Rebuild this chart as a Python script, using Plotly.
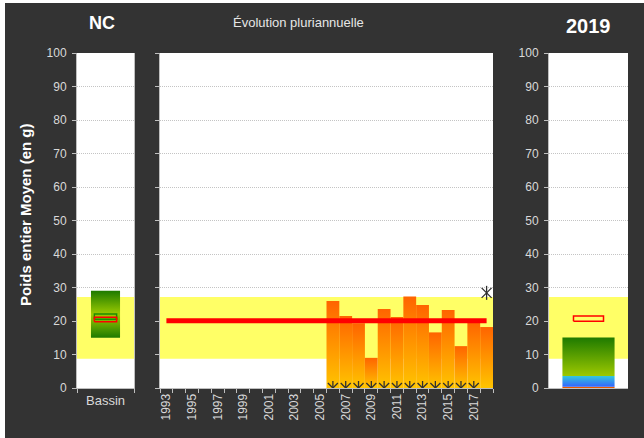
import plotly.graph_objects as go

W, H = 644, 438

# ---- data -----------------------------------------------------------------
years = list(range(1993, 2019))
tick_years = list(range(1993, 2018, 2))
bar_years = list(range(2006, 2019))
bar_values = [26.0, 21.5, 19.3, 9.0, 23.6, 21.2, 27.3, 24.8, 16.6, 23.3, 12.5, 19.8, 18.2]
star_years = list(range(2006, 2019))
star_values = [0, 0, 0, 0, 0, 0, 0, 0, 0, 0, 0, 0, 28.4]
mean_weight = 20.1
reference_band = [8.7, 27.2]

bassin_label = "Bassin"
bassin_range = [15.0, 29.0]
bassin_box_green = [20.5, 22.1]
bassin_box_red = [19.8, 21.1]

year_label = "2019"
year_bounds = [0.0, 0.4, 3.6, 15.1]          # orange / blue / green stack
year_box_red = [19.9, 21.5]

# ---- style ----------------------------------------------------------------
BG = "#333333"
TXT = "#D9D9D9"
GRID = "#BFBFBF"
FONT = "Liberation Sans, Arial, sans-serif"


def px_x(p):
    return p / W


def px_y(p):
    return 1 - p / H


fig = go.Figure()


def rect(x0, x1, y0, y1, xa, ya, scale=None, color=None):
    kw = dict(fillgradient=dict(type="vertical", colorscale=scale)) if scale else dict(fillcolor=color)
    fig.add_trace(go.Scatter(
        x=[x0, x1, x1, x0, x0], y=[y0, y0, y1, y1, y0],
        mode="lines", fill="toself",
        line=dict(width=0, color="rgba(0,0,0,0)"),
        hoverinfo="skip", showlegend=False, xaxis=xa, yaxis=ya, **kw))


def box(low_high, width, color, xa, ya):
    x0, x1 = -width / 2, width / 2
    y0, y1 = low_high
    fig.add_trace(go.Scatter(
        x=[x0, x1, x1, x0, x0], y=[y0, y0, y1, y1, y0], mode="lines",
        line=dict(color=color, width=1.5),
        hoverinfo="skip", showlegend=False, xaxis=xa, yaxis=ya))


# ---- reference band in every panel (drawn first, under the marks) ----------
x_ranges = {"x": [-0.5, 0.5], "x2": [years[0] - 0.5, years[-1] + 0.5], "x3": [-0.5, 0.5]}
for xa, ya in (("x", "y"), ("x2", "y2"), ("x3", "y3")):
    rect(x_ranges[xa][0], x_ranges[xa][1], reference_band[0], reference_band[1],
         xa, ya, color="#FFFF66")

# ---- left panel: basin ----------------------------------------------------
green_mid = [[0, "#1E7A00"], [0.5, "#9CCB00"], [1, "#1E7A00"]]
rect(-0.255, 0.255, bassin_range[0], bassin_range[1], "x", "y", scale=green_mid)
box(bassin_box_green, 0.39, "#1E8C00", "x", "y")
box(bassin_box_red, 0.39, "#FF0000", "x", "y")

# ---- middle panel: yearly evolution ----------------------------------------
orange_scale = [[0, "#FFC400"], [1, "#FF6400"]]
for yr, v in zip(bar_years, bar_values):
    rect(yr - 0.5, yr + 0.5, 0, v, "x2", "y2", scale=orange_scale)

fig.add_trace(go.Scatter(
    x=[years[0], years[-1]], y=[mean_weight, mean_weight], mode="lines",
    line=dict(color="#FF0000", width=5), hoverinfo="skip", showlegend=False,
    xaxis="x2", yaxis="y2"))

# six-armed star: an X plus a vertical stroke
for sym in ("x-thin-open", "line-ns-open"):
    fig.add_trace(go.Scatter(
        x=star_years, y=star_values, mode="markers",
        marker=dict(symbol=sym, size=10, color="#303030",
                    line=dict(color="#303030", width=1.3)),
        hoverinfo="skip", showlegend=False, xaxis="x2", yaxis="y2"))

# ---- right panel: current year --------------------------------------------
seg_scales = [
    [[0, "#E65A00"], [1, "#E65A00"]],
    [[0, "#3366FF"], [1, "#33C8DC"]],
    [[0, "#9CC800"], [1, "#1E7A00"]],
]
for lo, hi, sc in zip(year_bounds[:-1], year_bounds[1:], seg_scales):
    rect(-0.33, 0.33, lo, hi, "x3", "y3", scale=sc)
box(year_box_red, 0.38, "#FF0000", "x3", "y3")

# ---- axes -----------------------------------------------------------------
ydom = [px_y(388), px_y(53)]
yax = dict(range=[0, 100], dtick=10, showgrid=True, gridcolor="#C4C4C4",
           griddash="1px,1px", gridwidth=1, zeroline=False, showline=True,
           linecolor=GRID, ticks="outside", ticklen=4, tickcolor=GRID,
           ticklabelstandoff=3,
           tickfont=dict(color=TXT, size=12, family=FONT), fixedrange=True)

fig.update_layout(
    xaxis=dict(domain=[px_x(77), px_x(134)], range=x_ranges["x"],
               tickvals=[0], ticktext=[bassin_label], ticks="",
               showline=True, linecolor=GRID, showgrid=False, zeroline=False,
               minor=dict(tickvals=x_ranges["x"], ticks="outside", ticklen=4,
                          tickcolor=GRID, showgrid=False),
               tickfont=dict(color=TXT, size=13, family=FONT)),
    yaxis=dict(yax, domain=ydom, anchor="x", mirror=True),
    xaxis2=dict(domain=[px_x(160), px_x(493)], range=x_ranges["x2"],
                tickvals=tick_years, ticktext=[str(t) for t in tick_years],
                tickangle=-90, ticks="", showline=True, linecolor=GRID,
                showgrid=False, zeroline=False, anchor="y2",
                minor=dict(tickvals=[y - 0.5 for y in years] + [years[-1] + 0.5],
                           ticks="outside", ticklen=4, tickcolor=GRID,
                           showgrid=False),
                tickfont=dict(color=TXT, size=12, family=FONT)),
    yaxis2=dict(yax, domain=ydom, anchor="x2", showticklabels=False),
    xaxis3=dict(domain=[px_x(549), px_x(628)], range=x_ranges["x3"],
                showticklabels=False, ticks="", showline=True, linecolor=GRID,
                showgrid=False, zeroline=False, anchor="y3"),
    yaxis3=dict(yax, domain=ydom, anchor="x3"),
)

# ---- frame, titles --------------------------------------------------------
fig.add_shape(type="rect", xref="paper", yref="paper", x0=0, x1=px_x(5),
              y0=0, y1=1, fillcolor="white", line_width=0, layer="below")
fig.add_shape(type="rect", xref="paper", yref="paper", x0=0, x1=1,
              y0=px_y(3), y1=1, fillcolor="white", line_width=0, layer="below")

ann = dict(xref="paper", yref="paper", showarrow=False,
           xanchor="center", yanchor="middle")
fig.add_annotation(ann, x=px_x(102), y=px_y(23), text="<b>NC</b>",
                   font=dict(color="white", size=18, family=FONT))
fig.add_annotation(ann, x=px_x(298), y=px_y(22), text="Évolution pluriannuelle",
                   font=dict(color="#E6E6E6", size=13, family=FONT))
fig.add_annotation(ann, x=px_x(588), y=px_y(26), text=f"<b>{year_label}</b>",
                   font=dict(color="white", size=20, family=FONT))
fig.add_annotation(ann, x=px_x(25), y=px_y(215), textangle=-90,
                   text="<b>Poids entier Moyen (en g)</b>",
                   font=dict(color="white", size=15, family=FONT))

fig.update_layout(
    width=W, height=H, margin=dict(l=0, r=0, t=0, b=0, autoexpand=False),
    paper_bgcolor=BG, plot_bgcolor="white", showlegend=False,
    font=dict(family=FONT),
)

fig.write_html("out.html", config={"displayModeBar": False})
